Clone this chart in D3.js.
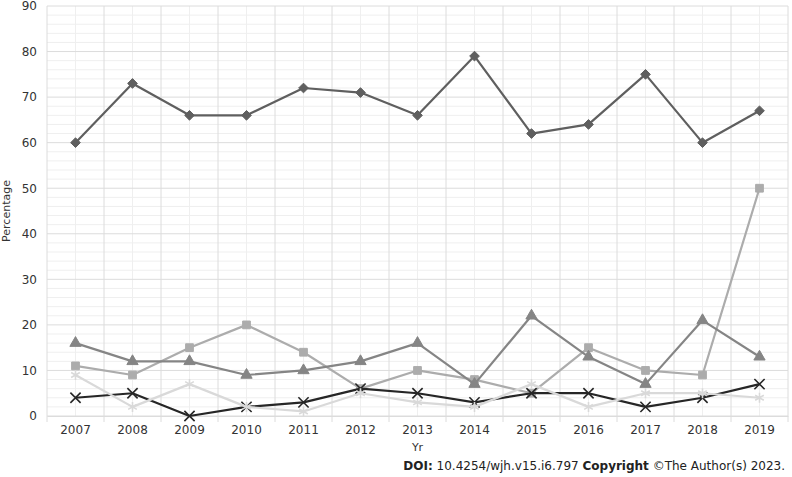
<!DOCTYPE html>
<html>
<head>
<meta charset="utf-8">
<script src="https://cdn.jsdelivr.net/npm/d3@7"></script>
<style>
  body { margin: 0; background: #fff; }
  svg { font-family: Verdana, "DejaVu Sans", sans-serif; }
</style>
</head>
<body>
<div id="chart"></div>
<script>
const years = ["2007","2008","2009","2010","2011","2012","2013","2014","2015","2016","2017","2018","2019"];
const diamondValues = [60, 73, 66, 66, 72, 71, 66, 79, 62, 64, 75, 60, 67];
const squareValues = [11, 9, 15, 20, 14, 6, 10, 8, 5, 15, 10, 9, 50];
const triangleValues = [16, 12, 12, 9, 10, 12, 16, 7, 22, 13, 7, 21, 13];
const crossValues = [4, 5, 0, 2, 3, 6, 5, 3, 5, 5, 2, 4, 7];
const starValues = [9, 2, 7, 2, 1, 5, 3, 2, 7, 2, 5, 5, 4];
const yTicks = [0, 10, 20, 30, 40, 50, 60, 70, 80, 90];

const series = [
    {values: diamondValues, color: "#5f5f5f", symbol: d3.symbolDiamond2, size: 60, fill: true},
    {values: squareValues, color: "#acacac", symbol: d3.symbolSquare, size: 60, fill: true},
    {values: triangleValues, color: "#858585", symbol: d3.symbolTriangle, size: 55, fill: true},
    {values: crossValues, color: "#262626", symbol: d3.symbolTimes, size: 70, fill: false},
    {values: starValues, color: "#d9d9d9", symbol: d3.symbolAsterisk, size: 70, fill: false}
];

const width = 792, height = 477;
const margin = {top: 6, right: 4, bottom: 61, left: 47};
const plotW = width - margin.left - margin.right;
const plotH = height - margin.top - margin.bottom;

const svg = d3.select("#chart")
    .append("svg")
    .attr("width", width)
    .attr("height", height);

const g = svg.append("g")
    .attr("transform", `translate(${margin.left}, ${margin.top})`);

const x = d3.scaleBand()
    .domain(years)
    .range([0, plotW]);

const y = d3.scaleLinear()
    .domain([0, 90])
    .range([plotH, 0]);

// minor horizontal grid every 2
g.append("g")
    .selectAll("line")
    .data(d3.range(0, 91, 2).filter(v => v % 10 !== 0))
    .join("line")
    .attr("x1", 0).attr("x2", plotW)
    .attr("y1", d => y(d)).attr("y2", d => y(d))
    .attr("stroke", "#efefef")
    .attr("stroke-width", 1);

// minor vertical grid at category centres
g.append("g")
    .selectAll("line")
    .data(years)
    .join("line")
    .attr("x1", d => x(d) + x.bandwidth() / 2).attr("x2", d => x(d) + x.bandwidth() / 2)
    .attr("y1", 0).attr("y2", plotH)
    .attr("stroke", "#efefef")
    .attr("stroke-width", 1);

// major horizontal grid
g.append("g")
    .selectAll("line")
    .data(yTicks)
    .join("line")
    .attr("x1", 0).attr("x2", plotW)
    .attr("y1", d => y(d)).attr("y2", d => y(d))
    .attr("stroke", "#dcdcdc")
    .attr("stroke-width", 1);

// major vertical grid at category boundaries
g.append("g")
    .selectAll("line")
    .data(years.map(d => x(d)).concat([plotW]))
    .join("line")
    .attr("x1", d => d).attr("x2", d => d)
    .attr("y1", 0).attr("y2", plotH + 6)
    .attr("stroke", "#dcdcdc")
    .attr("stroke-width", 1);

// y axis labels
const yAxis = g.append("g")
    .call(d3.axisLeft(y).tickValues(yTicks).tickSize(0).tickPadding(10));
yAxis.select(".domain").remove();
yAxis.selectAll("text")
    .attr("font-size", 12)
    .attr("font-family", "Verdana, 'DejaVu Sans', sans-serif")
    .attr("fill", "#333");

// x axis labels
const xAxis = g.append("g")
    .attr("transform", `translate(0, ${plotH})`)
    .call(d3.axisBottom(x).tickSize(0).tickPadding(9));
xAxis.select(".domain").attr("stroke", "#dcdcdc");
xAxis.selectAll("text")
    .attr("font-size", 12)
    .attr("font-family", "Verdana, 'DejaVu Sans', sans-serif")
    .attr("fill", "#333");

const line = d3.line()
    .x((d, i) => x(years[i]) + x.bandwidth() / 2)
    .y(d => y(d));

series.forEach(s => {
    const sg = g.append("g");
    sg.append("path")
        .datum(s.values)
        .attr("d", line)
        .attr("fill", "none")
        .attr("stroke", s.color)
        .attr("stroke-width", 2.2)
        .attr("stroke-linejoin", "round");
    sg.selectAll("path.marker")
        .data(s.values)
        .join("path")
        .attr("class", "marker")
        .attr("transform", (d, i) => `translate(${x(years[i]) + x.bandwidth() / 2}, ${y(d)})`)
        .attr("d", d3.symbol().type(s.symbol).size(s.size))
        .attr("fill", s.fill ? s.color : "none")
        .attr("stroke", s.color)
        .attr("stroke-width", s.fill ? 1 : 1.6);
});

svg.append("text")
    .attr("transform", `translate(10, ${margin.top + plotH / 2}) rotate(-90)`)
    .attr("text-anchor", "middle")
    .attr("font-size", 11)
    .attr("fill", "#333")
    .text("Percentage");

svg.append("text")
    .attr("x", margin.left + plotW / 2)
    .attr("y", 451)
    .attr("text-anchor", "middle")
    .attr("font-size", 11)
    .attr("fill", "#333")
    .text("Yr");

const doi = svg.append("text")
    .attr("x", 785)
    .attr("y", 470)
    .attr("text-anchor", "end")
    .attr("font-size", 12)
    .attr("fill", "#222");
doi.append("tspan").attr("font-weight", "bold").text("DOI:");
doi.append("tspan").text(" 10.4254/wjh.v15.i6.797 ");
doi.append("tspan").attr("font-weight", "bold").text("Copyright");
doi.append("tspan").text(" ©The Author(s) 2023.");
</script>
</body>
</html>
